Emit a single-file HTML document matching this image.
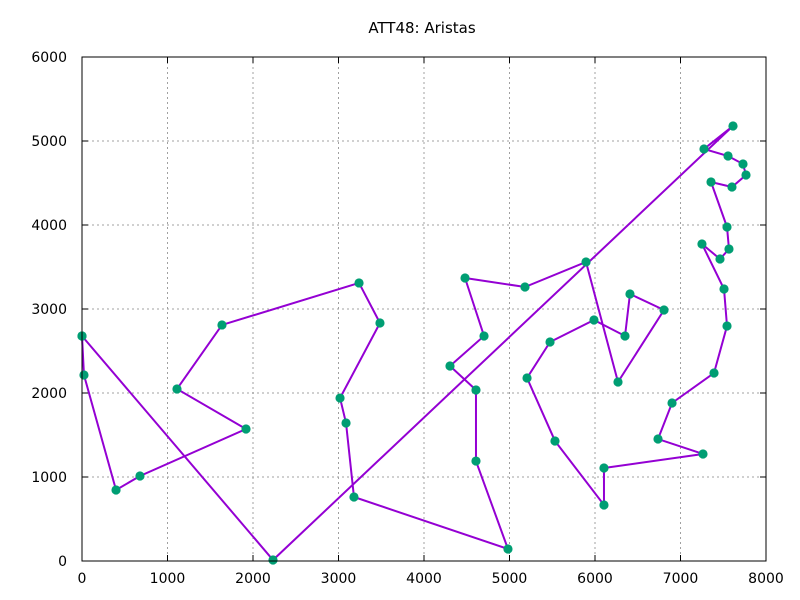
<!DOCTYPE html>
<html><head><meta charset="utf-8"><style>
body{margin:0;background:#fff}
svg{display:block;font-family:"DejaVu Sans","Liberation Sans",sans-serif}
</style></head><body>
<svg id="chart" width="800" height="600">
<text x="422" y="33" font-size="15" text-anchor="middle">ATT48: Aristas</text>
<g id="grid"></g><g id="ticks"></g><g id="series"></g>
<rect x="82" y="57" width="684" height="504" fill="none" stroke="#000" stroke-width="1"/>
</svg>
<script>
const xTicks=[0,1000,2000,3000,4000,5000,6000,7000,8000];
const yTicks=[0,1000,2000,3000,4000,5000,6000];
const tourX=[0,23,398,678,1918,1111,1637,3240,3485,3018,3088,3181,4982,4608,4608,4304,4702,4480,5181,5895,6269,6807,6409,6351,5988,5474,5205,5532,6105,6105,7263,6737,6901,7392,7544,7509,7251,7462,7567,7544,7357,7602,7766,7731,7556,7275,7614,2234,0];
const tourY=[2679,2214,845,1012,1571,2048,2810,3310,2833,1940,1643,762,143,1190,2036,2321,2679,3369,3262,3560,2131,2988,3179,2679,2869,2607,2179,1429,667,1107,1274,1452,1881,2238,2798,3238,3774,3595,3714,3976,4512,4452,4595,4726,4821,4905,5179,12,2679];
const NS='http://www.w3.org/2000/svg';
const L=82,R=766,T=57,B=561;
const sx=v=>L+v/8000*(R-L), sy=v=>B-v/6000*(B-T);
function mk(tag,attrs,parent){const e=document.createElementNS(NS,tag);for(const k in attrs)e.setAttribute(k,attrs[k]);parent.appendChild(e);return e;}
const grid=document.getElementById('grid'),ticks=document.getElementById('ticks'),series=document.getElementById('series');
xTicks.forEach(v=>{const x=sx(v);
 if(v>0&&v<8000){const g=mk('line',{x1:x,x2:x,y1:T,y2:B,stroke:'#a0a0a0','stroke-dasharray':'2,3','stroke-width':1},grid);
 
 }
 const t=mk('line',{x1:x,x2:x,y1:B,y2:B-6,stroke:'#000'},ticks);
 
 
 const t2=mk('line',{x1:x,x2:x,y1:T,y2:T+6,stroke:'#000'},ticks);
 
 
 const lb=mk('text',{x:x,y:B+22,'font-size':14,'text-anchor':'middle'},ticks);lb.textContent=v;
 
 });
yTicks.forEach(v=>{const y=sy(v);
 if(v>0&&v<6000){const g=mk('line',{x1:L,x2:R,y1:y,y2:y,stroke:'#a0a0a0','stroke-dasharray':'2,3','stroke-width':1},grid);
 
 }
 const t=mk('line',{x1:L,x2:L+6,y1:y,y2:y,stroke:'#000'},ticks);
 
 
 const t2=mk('line',{x1:R,x2:R-6,y1:y,y2:y,stroke:'#000'},ticks);
 
 
 const lb=mk('text',{x:L-15,y:y+5,'font-size':14,'text-anchor':'end'},ticks);lb.textContent=v;
 
 });
const pts=tourX.map((x,i)=>sx(x)+','+sy(tourY[i])).join(' ');
const pl=mk('polyline',{points:pts,fill:'none',stroke:'#9400d3','stroke-width':2},series);


tourX.forEach((x,i)=>{const c=mk('circle',{cx:sx(x),cy:sy(tourY[i]),r:4.6,fill:'#009e73'},series);
 
 });
</script>
</body></html>
